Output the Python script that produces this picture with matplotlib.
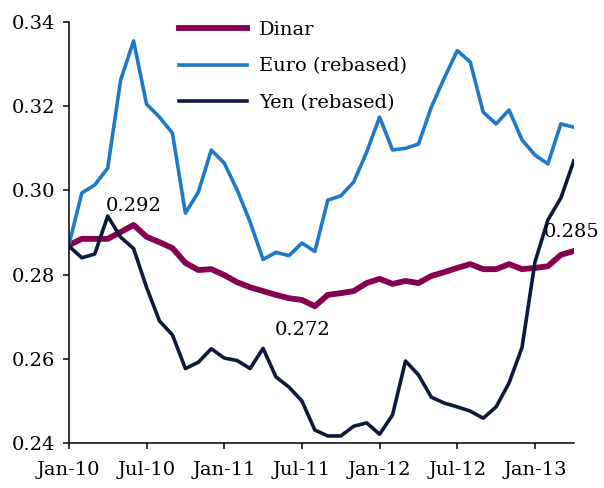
import matplotlib
matplotlib.use("Agg")
import matplotlib.pyplot as plt
import numpy as np

# monthly data, Jan-10 .. Apr-13
dinar = [0.2870, 0.2885, 0.2885, 0.2885, 0.2901, 0.2918, 0.2890, 0.2877, 0.2863, 0.2828,
         0.2811, 0.2813, 0.2799, 0.2782, 0.2770, 0.2761, 0.2752, 0.2744, 0.2740, 0.2725,
         0.2752, 0.2756, 0.2761, 0.2780, 0.2790, 0.2778, 0.2785, 0.2780, 0.2797, 0.2806,
         0.2816, 0.2825, 0.2813, 0.2813, 0.2825, 0.2813, 0.2816, 0.2820, 0.2847, 0.2856]
euro = [0.2870, 0.2994, 0.3013, 0.3053, 0.3262, 0.3355, 0.3205, 0.3174, 0.3136, 0.2946,
        0.2996, 0.3096, 0.3065, 0.3001, 0.2925, 0.2836, 0.2853, 0.2845, 0.2875, 0.2855,
        0.2977, 0.2987, 0.3020, 0.3091, 0.3174, 0.3096, 0.3100, 0.3110, 0.3198, 0.3267,
        0.3332, 0.3305, 0.3186, 0.3158, 0.3191, 0.3120, 0.3084, 0.3063, 0.3158, 0.3150]
yen = [0.2868, 0.2840, 0.2849, 0.2939, 0.2889, 0.2862, 0.2770, 0.2690, 0.2657, 0.2577,
       0.2592, 0.2624, 0.2602, 0.2596, 0.2577, 0.2625, 0.2557, 0.2533, 0.2500, 0.2431,
       0.2417, 0.2417, 0.2440, 0.2448, 0.2421, 0.2467, 0.2595, 0.2562, 0.2509, 0.2495,
       0.2486, 0.2476, 0.2459, 0.2486, 0.2543, 0.2627, 0.2830, 0.2930, 0.2982, 0.3070]
tick_pos = [0, 6, 12, 18, 24, 30, 36]
tick_labels = ['Jan-10', 'Jul-10', 'Jan-11', 'Jul-11', 'Jan-12', 'Jul-12', 'Jan-13']

plt.rcParams['font.family'] = ['DejaVu Serif']
fs = 14

fig = plt.figure(figsize=(6.04, 4.88), dpi=100)
ax = fig.add_axes([0.114, 0.092, 0.836, 0.863])

x = np.arange(len(dinar))
ax.plot(x, dinar, color='#850050', lw=4.2, label='Dinar')
ax.plot(x, euro, color='#1f78c8', lw=2.6, label='Euro (rebased)')
ax.plot(x, yen, color='#0d1a3a', lw=2.6, label='Yen (rebased)')

ax.set_xlim(0, len(dinar) - 1)
ax.set_ylim(0.24, 0.34)
ax.set_yticks([0.24, 0.26, 0.28, 0.30, 0.32, 0.34])
ax.set_yticklabels(['0.24', '0.26', '0.28', '0.30', '0.32', '0.34'])
ax.set_xticks(tick_pos)
ax.set_xticklabels(tick_labels)

for s in ['top', 'right']:
    ax.spines[s].set_visible(False)
for s in ['left', 'bottom']:
    ax.spines[s].set_linewidth(1.1)
ax.tick_params(direction='out', length=4, width=1.1, labelsize=fs)
ax.tick_params(axis='y', pad=6)
ax.tick_params(axis='x', pad=9)

# value labels
ax.annotate('0.292', xy=(5, dinar[5]), xytext=(0, 14), textcoords='offset points',
            ha='center', va='center', fontsize=fs)
ax.annotate('0.272', xy=(19, dinar[19]), xytext=(-9, -17), textcoords='offset points',
            ha='center', va='center', fontsize=fs)
ax.annotate('0.285', xy=(39, dinar[39]), xytext=(-1.5, 14), textcoords='offset points',
            ha='center', va='center', fontsize=fs, annotation_clip=False)

ax.legend(loc='upper left', bbox_to_anchor=(0.273, 0.985), bbox_transform=fig.transFigure,
          frameon=False, handlelength=3.5, handletextpad=0.65, labelspacing=0.95,
          fontsize=fs, borderaxespad=0.3)

fig.savefig('out.png', dpi=100)
